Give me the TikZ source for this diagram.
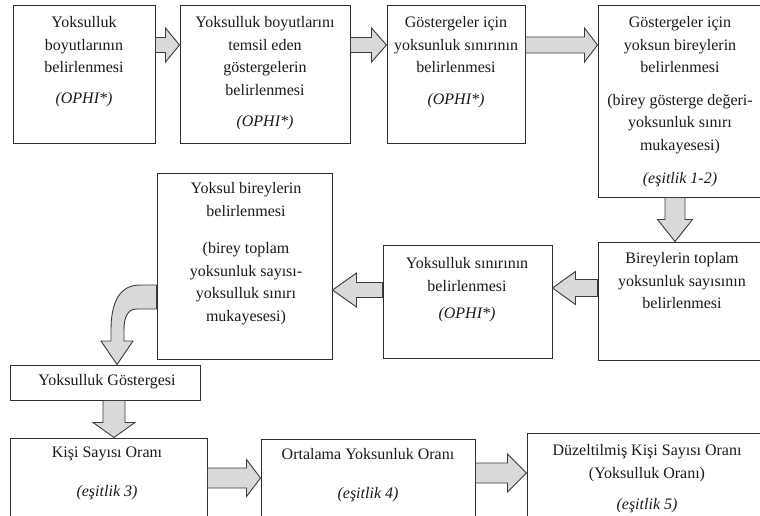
\documentclass[tikz,border=0pt]{standalone}
\usepackage{fontspec}
\setmainfont{Liberation Serif}
\usetikzlibrary{calc,fit}
\definecolor{boxc}{HTML}{2E2E2E}
\definecolor{arrfill}{HTML}{D9D9D9}
\definecolor{arrline}{HTML}{3C3C3C}
\definecolor{txtc}{HTML}{1A1A1A}
\tikzset{
  box/.style={draw=boxc, line width=1pt, inner sep=0pt},
  txt/.style={align=center, inner sep=0pt, anchor=north, text=txtc,
    font=\fontsize{16}{22.5}\selectfont},
  fat/.style={fill=arrfill, draw=arrline, line width=0.9pt, line join=miter}
}
% fat arrows: from, to, centre coordinate, shaft half, head half, head length
\newcommand{\fatR}[6]{\path[fat] let \p1=(#1), \p2=(#2) in
  ({\x1},{#3+#4}) -- ({\x2-#6},{#3+#4}) -- ({\x2-#6},{#3+#5}) -- ({\x2},{#3})
  -- ({\x2-#6},{#3-#5}) -- ({\x2-#6},{#3-#4}) -- ({\x1},{#3-#4}) -- cycle;}
\newcommand{\fatL}[6]{\path[fat] let \p1=(#1), \p2=(#2) in
  ({\x1},{#3+#4}) -- ({\x2+#6},{#3+#4}) -- ({\x2+#6},{#3+#5}) -- ({\x2},{#3})
  -- ({\x2+#6},{#3-#5}) -- ({\x2+#6},{#3-#4}) -- ({\x1},{#3-#4}) -- cycle;}
\newcommand{\fatD}[6]{\path[fat] let \p1=(#1), \p2=(#2) in
  ({#3-#4},{\y1}) -- ({#3-#4},{\y2+#6}) -- ({#3-#5},{\y2+#6}) -- ({#3},{\y2})
  -- ({#3+#5},{\y2+#6}) -- ({#3+#4},{\y2+#6}) -- ({#3+#4},{\y1}) -- cycle;}
\begin{document}
\begin{tikzpicture}[x=1pt,y=-1pt]
\clip (0,0) rectangle (760,515);
\fill[white] (0,0) rectangle (760,515);
% boxes
\node[box, fit={(13,5) (155,143)}] (b1) {};
\node[box, fit={(180,5) (350,143)}] (b2) {};
\node[box, fit={(387,5) (525,143)}] (b3) {};
\node[box, fit={(598,5) (775,197)}] (b4) {};
\node[box, fit={(598,242) (775,360)}] (b5) {};
\node[box, fit={(383,245) (552,358)}] (b6) {};
\node[box, fit={(157,173) (332,359)}] (b7) {};
\node[box, fit={(10,365) (200,400)}] (b8) {};
\node[box, fit={(10,438) (207,530)}] (b9) {};
\node[box, fit={(261,439) (475,530)}] (b10) {};
\node[box, fit={(527,433) (775,530)}] (b11) {};
% texts
\node[txt] (t1) at (84,16.5) {Yoksulluk\\boyutlarının\\belirlenmesi\\[8pt]\textit{(OPHI*)}};
\node[txt] (t2) at (265,16.5) {Yoksulluk boyutlarını\\temsil eden\\göstergelerin\\belirlenmesi\\[9pt]\textit{(OPHI*)}};
\node[txt] (t3) at (456,16.5) {Göstergeler için\\yoksunluk sınırının\\belirlenmesi\\[9pt]\textit{(OPHI*)}};
\node[txt] (t4) at (680,16.5) {Göstergeler için\\yoksun bireylerin\\belirlenmesi\\[10pt](birey gösterge değeri-\\yoksunluk sınırı\\mukayesesi)\\[11pt]\textit{(eşitlik 1-2)}};
\node[txt] (t5) at (682,252.5) {Bireylerin toplam\\yoksunluk sayısının\\belirlenmesi};
\node[txt] (t6) at (467,257.5) {Yoksulluk sınırının\\belirlenmesi\\[5pt]\textit{(OPHI*)}};
\node[txt] (t7) at (246,182.5) {Yoksul bireylerin\\belirlenmesi\\[15pt](birey toplam\\yoksunluk sayısı-\\yoksulluk sınırı\\mukayesesi)};
\node[txt, anchor=center] (t8) at (107,382) {Yoksulluk Göstergesi};
\node[txt] (t9) at (107,446.5) {Kişi Sayısı Oranı\\[17pt]\textit{(eşitlik 3)}};
\node[txt] (t10) at (368,448) {Ortalama Yoksunluk Oranı\\[17pt]\textit{(eşitlik 4)}};
\node[txt] (t11) at (647,444.5) {Düzeltilmiş Kişi Sayısı Oranı\\(Yoksulluk Oranı)\\[9pt]\textit{(eşitlik 5)}};
% fat arrows
\fatR{b1.east}{b2.west}{-45pt}{7.5pt}{17pt}{14pt}
\fatR{b2.east}{b3.west}{-45pt}{7.5pt}{17pt}{15pt}
\fatR{b3.east}{b4.west}{-45pt}{8pt}{17pt}{13pt}
\fatD{b4.south}{b5.north}{675pt}{10pt}{17.5pt}{22pt}
\fatL{b5.west}{b6.east}{-288pt}{8.5pt}{16.5pt}{23pt}
\fatL{b6.west}{b7.east}{-290pt}{7.5pt}{17pt}{24pt}
\fatD{b8.south}{b9.north}{114pt}{11pt}{21pt}{15pt}
\fatR{b9.east}{b10.west}{-478pt}{10pt}{18.5pt}{14pt}
\fatR{b10.east}{b11.west}{-473pt}{10pt}{19pt}{19pt}
% curved arrow
\path[fat] ([yshift=-19pt]b7.west) -- (140,285) .. controls (118,285) and (111,305) .. (111,330)
  -- (111,341) -- (101,341) -- ([xshift=12pt]b8.north) -- (133,341) -- (124,341) -- (124,330)
  .. controls (124,318) and (127,309) .. (137,309) -- ([yshift=-43pt]b7.west) -- cycle;
\end{tikzpicture}
\end{document}
